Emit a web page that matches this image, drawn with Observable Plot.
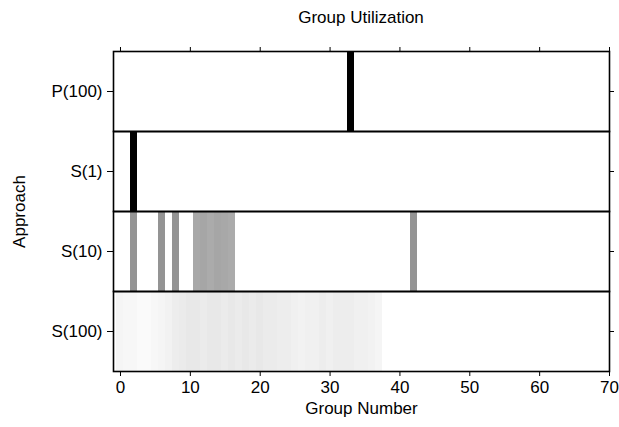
<!DOCTYPE html>
<html><head><meta charset="utf-8">
<script src="https://cdn.jsdelivr.net/npm/d3@7"></script>
<script src="https://cdn.jsdelivr.net/npm/@observablehq/plot@0.6"></script>
<style>
body{margin:0;background:#fff;font-family:"Liberation Sans",Arial,sans-serif;}
#wrap{position:relative;width:619px;height:427px;}
#title{position:absolute;left:113px;width:496px;top:7px;text-align:center;font-size:17px;line-height:22px;color:#000;}
#chart{position:absolute;left:0;top:30px;}
</style></head><body>
<div id="wrap"><div id="title">Group Utilization</div><div id="chart"></div></div>
<script>
// Approaches (rows), top to bottom
const approaches = ["P(100)", "S(1)", "S(10)", "S(100)"];
// x-axis ticks
const xTicks = [0, 10, 20, 30, 40, 50, 60, 70];

// Used groups and their utilization (0 = white, 1 = black)
const p100Groups = [33];
const p100Util = [1.0];

const s1Groups = [2];
const s1Util = [1.0];

const s10Groups = [2, 6, 8, 11, 12, 13, 14, 15, 16, 42];
const s10Util = [0.42, 0.42, 0.42, 0.34, 0.35, 0.33, 0.35, 0.34, 0.33, 0.42];

const s100Groups = [0, 1, 2, 3, 4, 5, 6, 7, 8, 9, 10, 11, 12, 13, 14, 15, 16, 17, 18, 19,
                    20, 21, 22, 23, 24, 25, 26, 27, 28, 29, 30, 31, 32, 33, 34, 35, 36, 37];
const s100Util = [0.04, 0.03, 0.03, 0.02, 0.02, 0.03, 0.04, 0.05, 0.07, 0.08, 0.09, 0.09, 0.08, 0.09, 0.09, 0.08, 0.09, 0.08, 0.09, 0.08,
                  0.09, 0.08, 0.08, 0.07, 0.07, 0.06, 0.05, 0.06, 0.06, 0.07, 0.06, 0.07, 0.07, 0.07, 0.06, 0.06, 0.05, 0.04];

const series = [
  ["P(100)", p100Groups, p100Util],
  ["S(1)", s1Groups, s1Util],
  ["S(10)", s10Groups, s10Util],
  ["S(100)", s100Groups, s100Util]
];
const data = series.flatMap(([approach, groups, utils]) =>
  groups.map((group, i) => ({approach, group, util: utils[i]})));

const chart = Plot.plot({
  width: 619,
  height: 397,
  marginTop: 21,
  marginBottom: 56,
  marginLeft: 113,
  marginRight: 10,
  style: {fontFamily: "Liberation Sans, Arial, sans-serif", fontSize: "17px", color: "#000", background: "#fff", overflow: "visible"},
  x: {domain: [-1, 70]},
  fy: {domain: approaches, padding: 0},
  color: {type: "linear", domain: [0, 1], range: ["#ffffff", "#000000"]},
  marks: [
    Plot.rect(data, {x1: d => d.group - 0.5, x2: d => d.group + 0.5, fy: "approach", fill: "util", shapeRendering: "crispEdges"}),
    Plot.frame({stroke: "#000", strokeWidth: 1.6}),
    Plot.axisX({anchor: "bottom", ticks: xTicks, tickSize: 5, tickPadding: 4, label: "Group Number", labelAnchor: "center", labelArrow: "none", labelOffset: 42}),
    Plot.axisX({anchor: "top", ticks: xTicks, tickSize: 5, tickFormat: () => "", label: null}),
    Plot.axisFy({anchor: "left", tickSize: 6, tickPadding: 5, label: "Approach", labelAnchor: "center", labelOffset: 101}),
    Plot.axisFy({anchor: "right", tickSize: 4, tickFormat: () => "", label: null})
  ]
});
document.getElementById("chart").appendChild(chart);
</script>
</body></html>
